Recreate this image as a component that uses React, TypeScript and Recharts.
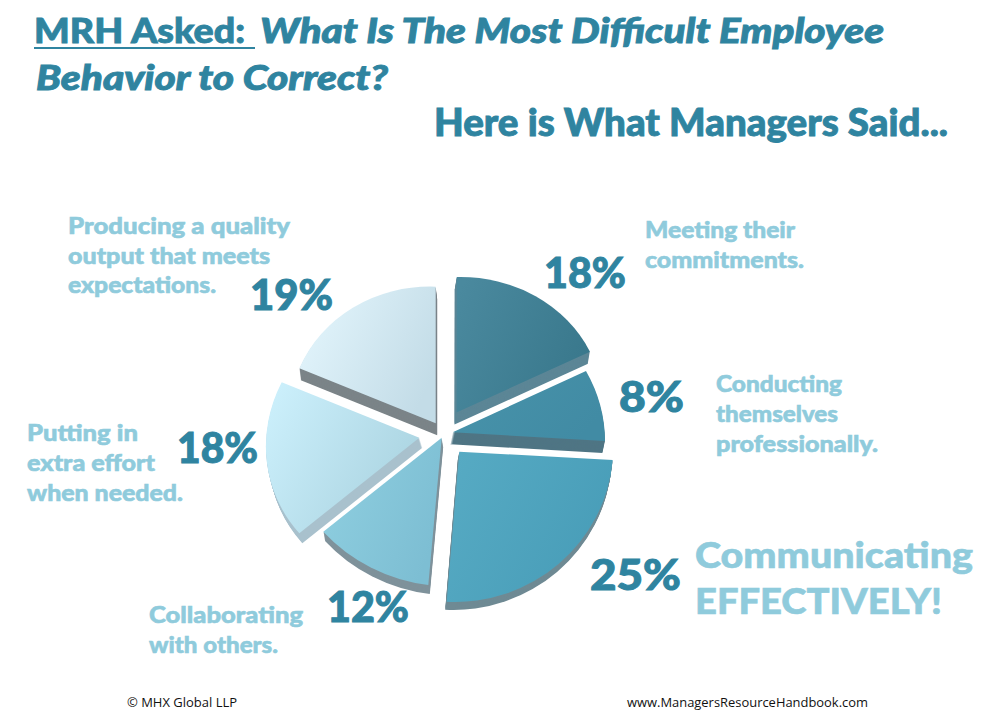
import React from "react";
import { PieChart, Pie, Sector } from "recharts";

const categories = ["Meeting their commitments", "Conducting themselves professionally", "Communicating effectively", "Collaborating with others", "Putting in extra effort", "Producing quality output"];
const values = [18, 8, 25, 12, 18, 19];
const tableData = categories.map((name, i) => ({ name, value: values[i] }));

const BASE_R = 150;
// tilted-view placement of each exploded slice: apex and the two rim corners on the page
const sliceLayout = [
  { x: 456.5, y: 412.5, sx: 456.7, sy: 277, ex: 590, ey: 351.7, depth: 12, lean: -2 },
  { x: 452.7, y: 432.3, sx: 586, sy: 371, ex: 605, ey: 441, depth: 12, lean: -2.5 },
  { x: 459.3, y: 451.7, sx: 612.7, sy: 460, ex: 446.7, ey: 601.7, depth: 8, lean: -1.5 },
  { x: 441.7, y: 437.7, sx: 428.3, sy: 585, ex: 323.3, ey: 531.7, depth: 9, lean: 1.5 },
  { x: 419.3, y: 437.7, sx: 299.3, sy: 533.3, ex: 281.7, ey: 382.3, depth: 10, lean: 3 },
  { x: 435.7, y: 423.3, sx: 299.3, sy: 368.3, ex: 435.7, ey: 286.7, depth: 12, lean: 1.5 },
];
const sliceColors = [
  { from: "#4a899e", to: "#39788c", wall: "#5c8696" },
  { from: "#4893aa", to: "#418ba4", wall: "#4f7584" },
  { from: "#56aac3", to: "#489db8", wall: "#6f8a94" },
  { from: "#8fcfe0", to: "#7dbed3", wall: "#7f929b" },
  { from: "#cbeffb", to: "#abd4e1", wall: "#a9c1cd" },
  { from: "#e4f6fd", to: "#c3dce7", wall: "#7b8488" },
];

const INK = "#2f84a0";
const PALE = "#8fcbdc";

const titleLines = [
  { text: "MRH Asked:", x: 34, y: 43, w: 211, size: 35, italic: false },
  { text: "What Is The Most Difficult Employee", x: 260, y: 43, w: 624, size: 35, italic: true },
  { text: "Behavior to Correct?", x: 36, y: 90, w: 352, size: 35, italic: true },
  { text: "Here is What Managers Said...", x: 434, y: 136, w: 514, size: 37, italic: false },
];
const labelLines = [
  { text: "Meeting their", x: 645, y: 238, w: 150, size: 23 },
  { text: "commitments.", x: 645, y: 268, w: 159, size: 23 },
  { text: "Conducting", x: 716, y: 392, w: 126, size: 23 },
  { text: "themselves", x: 716, y: 422, w: 122, size: 23 },
  { text: "professionally.", x: 716, y: 452, w: 162, size: 23 },
  { text: "Communicating", x: 695, y: 568, w: 278, size: 36 },
  { text: "EFFECTIVELY!", x: 695, y: 614, w: 247, size: 36 },
  { text: "Collaborating", x: 149, y: 623, w: 154, size: 23 },
  { text: "with others.", x: 149, y: 653, w: 129, size: 23 },
  { text: "Putting in", x: 27, y: 441, w: 111, size: 23 },
  { text: "extra effort", x: 27, y: 471, w: 128, size: 23 },
  { text: "when needed.", x: 27, y: 501, w: 156, size: 23 },
  { text: "Producing a quality", x: 68, y: 234, w: 222, size: 23 },
  { text: "output that meets", x: 68, y: 264, w: 202, size: 23 },
  { text: "expectations.", x: 68, y: 293, w: 148, size: 23 },
];
const percentLayout = [
  { x: 544, y: 288, w: 82 },
  { x: 619, y: 412, w: 65 },
  { x: 590, y: 590, w: 91 },
  { x: 327, y: 622, w: 82 },
  { x: 177, y: 463, w: 81 },
  { x: 250, y: 310, w: 83 },
];
const footerLines = [
  { text: "© MHX Global LLP", x: 127, y: 707, w: 110, size: 13 },
  { text: "www.ManagersResourceHandbook.com", x: 627, y: 707, w: 241, size: 13 },
];

const DISPLAY_FONT = "Lato, 'Open Sans', sans-serif";
const RAD = Math.PI / 180;

function SliceShape(props: any) {
  const { cx, cy, startAngle, endAngle, outerRadius } = props;
  const idx = categories.indexOf(props.name ?? props.payload?.name);
  const i = idx >= 0 ? idx : props.index ?? 0;
  const l = sliceLayout[i];
  const c = sliceColors[i];
  const gid = `slice-grad-${i}`;
  // affine map that carries the slice's two radii onto the tilted page positions
  const u1x = outerRadius * Math.cos(startAngle * RAD);
  const u1y = -outerRadius * Math.sin(startAngle * RAD);
  const u2x = outerRadius * Math.cos(endAngle * RAD);
  const u2y = -outerRadius * Math.sin(endAngle * RAD);
  const v1x = l.sx - l.x;
  const v1y = l.sy - l.y;
  const v2x = l.ex - l.x;
  const v2y = l.ey - l.y;
  const det = u1x * u2y - u2x * u1y;
  const a = (v1x * u2y - v2x * u1y) / det;
  const cc = (v2x * u1x - v1x * u2x) / det;
  const b = (v1y * u2y - v2y * u1y) / det;
  const dd = (v2y * u1x - v1y * u2x) / det;
  const xf = (dy: number) =>
    `translate(${l.x + (l.lean * dy) / l.depth} ${l.y + dy}) matrix(${a} ${b} ${cc} ${dd} 0 0) translate(${-cx} ${-cy})`;
  const common = { cx, cy, startAngle, endAngle, innerRadius: 0, outerRadius };
  const layers: number[] = [];
  for (let d = l.depth; d >= 1; d--) layers.push(d);
  return (
    <g>
      <defs>
        <linearGradient id={gid} x1="0" y1="0.15" x2="1" y2="0.6">
          <stop offset="0%" stopColor={c.from} />
          <stop offset="100%" stopColor={c.to} />
        </linearGradient>
      </defs>
      {layers.map((d) => (
        <g key={d} transform={xf(d)}>
          <Sector {...common} fill={c.wall} stroke="none" />
        </g>
      ))}
      <g transform={xf(0)}>
        <Sector {...common} fill={`url(#${gid})`} stroke="none" />
      </g>
    </g>
  );
}

export default function App() {
  return (
    <div style={{ position: "absolute", left: 0, top: 0, width: 984, height: 721, background: "#fff" }}>
      <PieChart width={984} height={721} margin={{ top: 0, right: 0, bottom: 0, left: 0 }}>
        <Pie
          data={tableData}
          dataKey="value"
          nameKey="name"
          cx={440}
          cy={440}
          innerRadius={0}
          outerRadius={BASE_R}
          startAngle={90}
          endAngle={-270}
          paddingAngle={0}
          stroke="none"
          isAnimationActive={false}
          shape={SliceShape}
          activeShape={SliceShape}
          inactiveShape={SliceShape}
          label={false}
          labelLine={false}
        />
      </PieChart>
      <svg width={984} height={721} style={{ position: "absolute", left: 0, top: 0, pointerEvents: "none" }}>
        {titleLines.map((t) => (
          <text key={t.text} x={t.x} y={t.y} fontFamily={DISPLAY_FONT} fontWeight={900} fontStyle={t.italic ? "italic" : "normal"} fontSize={t.size} fill={INK} stroke={INK} strokeWidth={0.9} textLength={t.w} lengthAdjust="spacingAndGlyphs">
            {t.text}
          </text>
        ))}
        <line x1={34} x2={255} y1={48} y2={48} stroke={INK} strokeWidth={2} />
        {labelLines.map((t) => (
          <text key={t.text} x={t.x} y={t.y} fontFamily={DISPLAY_FONT} fontWeight={900} fontSize={t.size} fill={PALE} stroke={PALE} strokeWidth={0.6} textLength={t.w} lengthAdjust="spacingAndGlyphs">
            {t.text}
          </text>
        ))}
        {values.map((v, i) => (
          <text key={i} x={percentLayout[i].x} y={percentLayout[i].y} fontFamily={DISPLAY_FONT} fontWeight={900} fontSize={42} fill={INK} stroke={INK} strokeWidth={1} textLength={percentLayout[i].w} lengthAdjust="spacingAndGlyphs">
            {`${v}%`}
          </text>
        ))}
        {footerLines.map((t) => (
          <text key={t.text} x={t.x} y={t.y} fontFamily="'Open Sans', sans-serif" fontSize={t.size} fill="#111" textLength={t.w} lengthAdjust="spacingAndGlyphs">
            {t.text}
          </text>
        ))}
      </svg>
    </div>
  );
}
